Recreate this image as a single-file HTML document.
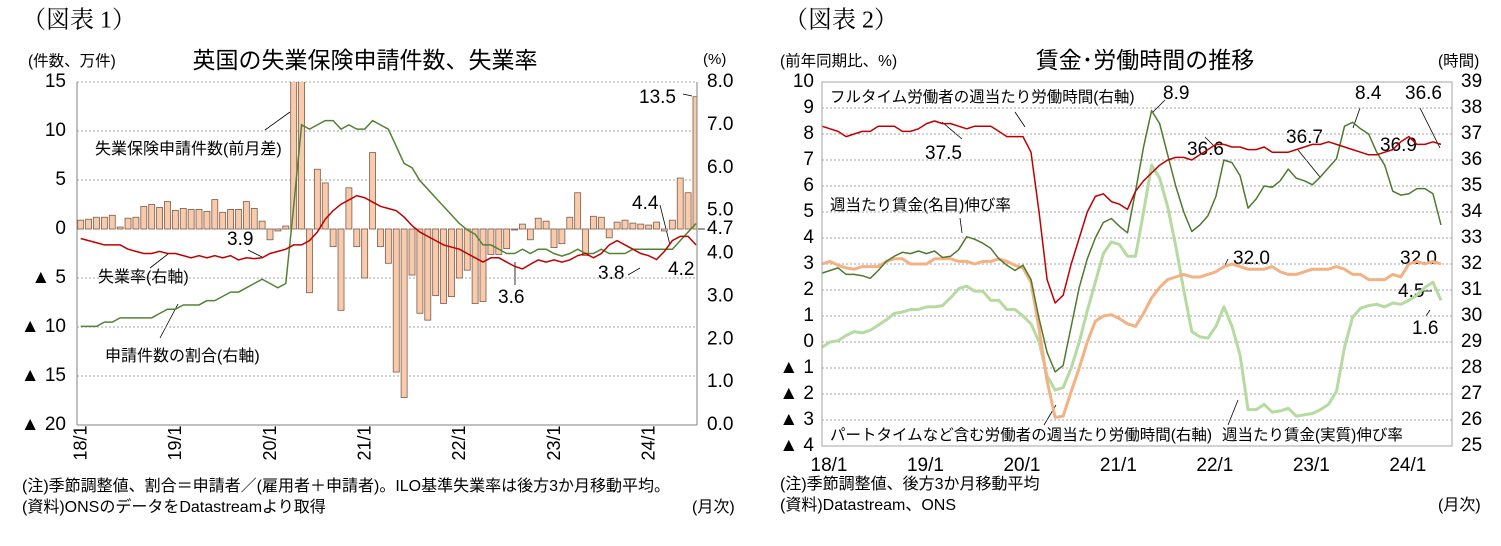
<!DOCTYPE html>
<html><head><meta charset="utf-8">
<style>
html,body{margin:0;padding:0;background:#fff;}
svg{display:block;font-family:"Liberation Sans","Noto Sans CJK JP",sans-serif;}
</style></head>
<body>
<svg id="s" width="1501" height="546" viewBox="0 0 1501 546" xmlns="http://www.w3.org/2000/svg">
<g id="static" font-size="16" fill="#000" dominant-baseline="middle">
  <text x="22" y="22" font-size="24" font-family="Liberation Serif,Noto Serif CJK SC,serif">（図表 1）</text>
  <text x="365" y="62" font-size="23" text-anchor="middle">英国の失業保険申請件数、失業率</text>
  <text x="28" y="62" font-size="15.5">(件数、万件)</text>
  <text x="703" y="60" font-size="15">(%)</text>
  <text x="95" y="150">失業保険申請件数(前月差)</text>
  <text x="98" y="278">失業率(右軸)</text>
  <text x="105" y="357">申請件数の割合(右軸)</text>
  <g font-size="19">
  <text x="227" y="240">3.9</text>
  <text x="498" y="298">3.6</text>
  <text x="639" y="98">13.5</text>
  <text x="632" y="204">4.4</text>
  <text x="598" y="274">3.8</text>
  <text x="668" y="270">4.2</text>
  </g>
  <g stroke="#000" stroke-width="0.8" fill="none">
    <line x1="265" y1="130" x2="290" y2="112"/><line x1="248" y1="250" x2="262" y2="257"/>
    <line x1="150" y1="268" x2="168" y2="254"/><line x1="160" y1="338" x2="178" y2="304"/>
    <line x1="515" y1="285" x2="515" y2="262"/><line x1="683" y1="94" x2="692" y2="96"/>
    <line x1="660" y1="205" x2="670" y2="245"/><line x1="628" y1="275" x2="640" y2="268"/>
    <line x1="698" y1="229" x2="705" y2="229"/>
  </g>
  <text x="22" y="487">(注)季節調整値、割合＝申請者／(雇用者＋申請者)。ILO基準失業率は後方3か月移動平均。</text>
  <text x="22" y="508">(資料)ONSのデータをDatastreamより取得</text>
  <text x="692" y="508">(月次)</text>

  <text x="784" y="22" font-size="24" font-family="Liberation Serif,Noto Serif CJK SC,serif">（図表 2）</text>
  <text x="1145" y="62" font-size="23" text-anchor="middle">賃金･労働時間の推移</text>
  <text x="780" y="62" font-size="15.5">(前年同期比、%)</text>
  <text x="1438" y="62" font-size="15.5">(時間)</text>
  <g font-size="15.5">
  <text x="830" y="98">フルタイム労働者の週当たり労働時間(右軸)</text>
  <text x="830" y="206">週当たり賃金(名目)伸び率</text>
  <text x="830" y="436">パートタイムなど含む労働者の週当たり労働時間(右軸)</text>
  <text x="1222" y="436">週当たり賃金(実質)伸び率</text>
  </g>
  <g font-size="19">
  <text x="925" y="154">37.5</text>
  <text x="1163" y="94">8.9</text>
  <text x="1187" y="150">36.6</text>
  <text x="1286" y="138">36.7</text>
  <text x="1355" y="94">8.4</text>
  <text x="1405" y="94">36.6</text>
  <text x="1380" y="146">36.9</text>
  <text x="1398" y="292">4.5</text>
  <text x="1233" y="259">32.0</text>
  <text x="1400" y="259">32.0</text>
  <text x="1412" y="329">1.6</text>
  </g>
  <g stroke="#000" stroke-width="0.8" fill="none">
    <line x1="1015" y1="112" x2="1025" y2="127"/><line x1="962" y1="139" x2="942" y2="122"/>
    <line x1="1165" y1="100" x2="1153" y2="112"/><line x1="1205" y1="137" x2="1217" y2="149"/>
    <line x1="1298" y1="150" x2="1320" y2="177"/><line x1="1360" y1="108" x2="1353" y2="128"/>
    <line x1="1420" y1="108" x2="1440" y2="148"/><line x1="960" y1="218" x2="962" y2="233"/>
    <line x1="1044" y1="425" x2="1056" y2="405"/><line x1="1228" y1="425" x2="1238" y2="400"/>
    <line x1="1426" y1="316" x2="1430" y2="310"/><line x1="1421" y1="291" x2="1432" y2="291"/>
    <line x1="1228" y1="259" x2="1225" y2="265"/>
  </g>
  <text x="780" y="485">(注)季節調整値、後方3か月移動平均</text>
  <text x="780" y="506">(資料)Datastream、ONS</text>
  <text x="1438" y="506">(月次)</text>
</g>
<g id="c1"></g>
<g id="c2"></g>
</svg>
<script>
// ---- Chart 1 data (2018/1 .. 2024/7) ----
const claimsChange = [0.9,1.0,1.2,1.2,1.4,0.2,1.1,1.2,2.3,2.5,2.2,2.8,1.9,2.1,2.0,2.0,1.8,3.0,1.7,2.0,2.0,2.8,2.1,0.8,-1.1,-0.2,0.3,85,30,-6.5,6.1,4.7,-1.8,-8.3,4.2,-1.8,-5.0,7.8,-1.8,-3.5,-14.6,-17.2,-4.7,-8.6,-9.3,-6.8,-7.6,-6.9,-5.0,-4.2,-7.6,-7.4,-2.6,-2.6,-2.0,-0.1,0.5,-1.1,1.1,0.8,-1.9,-1.5,1.2,3.7,-2.7,1.3,1.2,-0.9,0.7,0.9,0.6,0.5,0.4,0.7,-0.2,0.9,5.2,3.7,13.5];
const unempRate = [4.35,4.3,4.25,4.2,4.2,4.2,4.1,4.05,4.0,4.0,4.05,4.0,4.0,3.95,3.9,3.95,3.9,3.95,3.9,3.95,3.85,3.9,3.88,3.9,4.0,4.05,4.1,4.2,4.2,4.3,4.5,4.8,5.0,5.15,5.25,5.35,5.3,5.2,5.1,5.05,5.0,4.85,4.65,4.5,4.4,4.3,4.2,4.15,4.1,4.0,3.9,3.8,3.9,3.9,3.8,3.7,3.64,3.75,3.85,3.8,3.85,3.8,3.85,3.95,4.0,3.9,4.0,4.2,4.3,4.2,4.1,4.0,3.95,3.86,4.05,4.3,4.4,4.4,4.2];
const claimantShare = [2.3,2.3,2.3,2.4,2.4,2.5,2.5,2.5,2.5,2.5,2.6,2.7,2.7,2.8,2.8,2.8,2.9,2.9,3.0,3.1,3.1,3.2,3.3,3.4,3.3,3.2,3.3,5.1,7.0,6.9,7.0,7.1,7.1,6.9,7.0,6.9,6.9,7.1,7.0,6.9,6.5,6.1,6.0,5.7,5.5,5.3,5.1,4.9,4.7,4.55,4.45,4.2,4.2,4.1,4.0,4.0,4.1,4.0,4.1,4.1,4.0,3.94,4.0,4.1,4.0,4.0,4.1,4.0,4.0,4.0,4.1,4.1,4.1,4.1,4.1,4.1,4.3,4.5,4.7];
const c1LeftTicks = [15,10,5,0,-5,-10,-15,-20];
const c1RightTicks = [8,7,6,5,4,3,2,1,0];
const c1XLabels = ["18/1","19/1","20/1","21/1","22/1","23/1","24/1"];

// ---- Chart 2 data (2018/1 .. 2024/6) ----
const nominalWage = [2.65,2.75,2.85,2.6,2.6,2.55,2.45,2.75,3.1,3.3,3.45,3.4,3.5,3.4,3.5,3.25,3.3,3.55,4.05,3.95,3.8,3.6,3.2,2.95,2.75,2.95,2.4,0.9,-0.4,-1.15,-0.9,0.6,2.1,3.2,4.0,4.6,4.75,4.45,4.2,5.8,7.5,8.9,8.4,7.2,6.0,5.0,4.25,4.5,4.85,5.6,7.0,6.9,6.4,5.15,5.5,6.0,5.95,6.2,6.65,6.3,6.2,6.05,6.35,6.7,7.05,8.3,8.45,8.2,8.0,7.3,6.8,5.8,5.65,5.7,5.9,5.9,5.7,4.5];
const realWage = [-0.2,0.0,0.05,0.25,0.4,0.35,0.45,0.65,0.85,1.1,1.15,1.25,1.25,1.35,1.35,1.4,1.7,2.05,2.15,1.95,1.95,1.6,1.6,1.25,1.25,1.0,0.7,0.0,-1.3,-1.85,-1.75,-1.0,0.0,1.2,2.3,3.4,3.85,3.75,3.3,3.3,5.0,6.8,6.3,5.2,3.7,2.0,0.4,0.2,0.15,0.6,1.35,0.6,-0.5,-2.6,-2.6,-2.4,-2.7,-2.65,-2.55,-2.85,-2.8,-2.75,-2.6,-2.4,-1.9,-0.2,0.95,1.3,1.4,1.45,1.35,1.5,1.45,1.6,1.8,2.1,2.3,1.6];
const fullTimeHours = [37.3,37.2,37.1,36.9,37.0,37.1,37.1,37.3,37.3,37.3,37.1,37.1,37.2,37.4,37.5,37.4,37.4,37.3,37.2,37.3,37.3,37.3,37.1,36.9,36.9,36.9,36.3,34.0,31.4,30.5,30.8,32.0,33.0,34.0,34.6,34.7,34.4,34.3,34.1,34.8,35.2,35.5,35.8,36.0,36.1,36.1,36.0,36.2,36.4,36.6,36.6,36.5,36.5,36.4,36.4,36.5,36.3,36.3,36.3,36.4,36.5,36.6,36.6,36.7,36.6,36.5,36.4,36.3,36.2,36.2,36.3,36.4,36.7,36.9,36.6,36.6,36.7,36.6];
const allHours = [32.0,32.1,31.95,31.85,31.8,31.9,31.9,31.9,32.1,32.2,32.2,32.0,32.0,32.0,32.2,32.2,32.2,32.1,32.1,32.0,32.1,32.1,32.2,32.1,31.95,31.85,31.3,29.5,27.5,26.1,26.15,27.1,28.0,29.0,29.8,30.0,30.05,29.9,29.7,29.6,30.1,30.7,31.1,31.4,31.5,31.6,31.5,31.5,31.6,31.7,31.9,32.0,31.9,31.8,31.8,31.8,31.9,31.7,31.6,31.6,31.7,31.8,31.8,31.8,31.9,31.8,31.6,31.6,31.4,31.4,31.4,31.6,31.5,32.0,32.1,32.0,32.1,32.0];
const c2LeftTicks = [10,9,8,7,6,5,4,3,2,1,0,-1,-2,-3,-4];
const c2RightTicks = [39,38,37,36,35,34,33,32,31,30,29,28,27,26,25];
const c2XLabels = ["18/1","19/1","20/1","21/1","22/1","23/1","24/1"];

const NS = "http://www.w3.org/2000/svg";
function mk(tag, attrs, parent){const e=document.createElementNS(NS,tag);for(const k in attrs)e.setAttribute(k,attrs[k]);parent.appendChild(e);return e;}
function lin(d0,d1,r0,r1){return v=>r0+(v-d0)*(r1-r0)/(d1-d0);}
function tickText(v){return v<0?"▲ "+Math.abs(v):String(v);}

// ===== Chart 1 =====
(function(){
  const g=document.getElementById('c1');
  const L=77,R=697,T=82,B=425;
  const yL=lin(15,-20,T,B), yR=lin(8,0,T,B);
  const x=lin(0,claimsChange.length-1,80.7,696);
  c1LeftTicks.forEach(v=>{
    const gl=mk('line',{x1:L,x2:R,y1:yL(v),y2:yL(v),stroke:'#a6a6a6','stroke-dasharray':'2,2','stroke-width':1},g);
    
    
    const t=mk('text',{x:66,y:yL(v),'text-anchor':'end','dominant-baseline':'middle','font-size':19},g);
    t.textContent=tickText(v);
    
    
  });
  c1RightTicks.forEach(v=>{
    const t=mk('text',{x:707,y:yR(v),'dominant-baseline':'middle','font-size':19},g);
    t.textContent=v.toFixed(1);
    
    
  });
  const t47=mk('text',{x:707,y:229,'dominant-baseline':'middle','font-size':19},g);
  t47.textContent="4.7";
  
  
  const cp=mk('clipPath',{id:'clip1'},g);mk('rect',{x:L,y:T,width:R-L,height:B-T},cp);
  const bars=mk('g',{'clip-path':'url(#clip1)'},g);
  claimsChange.forEach((v,i)=>{
    const y0=yL(0),y1=yL(v);
    const r=mk('rect',{x:x(i)-3,y:Math.min(y0,y1),width:6,height:Math.abs(y1-y0),fill:'#f8cbad',stroke:'#7f5a48','stroke-width':0.8},bars);
    
    
  });
  const lines=mk('g',{'clip-path':'url(#clip1)'},g);
  const p1=mk('polyline',{points:claimantShare.map((v,i)=>x(i)+','+yR(v)).join(' '),fill:'none',stroke:'#548235','stroke-width':1.5},lines);
  
  
  const p2=mk('polyline',{points:unempRate.map((v,i)=>x(i)+','+yR(v)).join(' '),fill:'none',stroke:'#c00000','stroke-width':1.5},lines);
  
  
  mk('line',{x1:L,x2:L,y1:T,y2:B,stroke:'#808080'},g);
  mk('line',{x1:R,x2:R,y1:T,y2:B,stroke:'#808080'},g);
  mk('line',{x1:L,x2:R,y1:B,y2:B,stroke:'#808080'},g);
  c1XLabels.forEach((s,k)=>{
    const xx=x(k*12)+1;
    const t=mk('text',{x:0,y:0,'font-size':18,'text-anchor':'middle','dominant-baseline':'middle',transform:'translate('+xx+',443) rotate(-90)'},g);
    t.textContent=s;
    
    
  });
})();

// ===== Chart 2 =====
(function(){
  const g=document.getElementById('c2');
  const L=822,R=1452,T=82,B=446;
  const yL=lin(10,-4,T,B), yR=lin(39,25,T,B);
  const x=lin(0,nominalWage.length-1,822,1441);
  c2LeftTicks.forEach(v=>{
    const gl=mk('line',{x1:L,x2:R,y1:yL(v),y2:yL(v),stroke:'#a6a6a6','stroke-dasharray':'2,2','stroke-width':1},g);
    
    
    const t=mk('text',{x:814,y:yL(v),'text-anchor':'end','dominant-baseline':'middle','font-size':19},g);
    t.textContent=v<0?"▲ "+Math.abs(v):String(v);
    
    
  });
  c2RightTicks.forEach(v=>{
    const t=mk('text',{x:1461,y:yR(v),'dominant-baseline':'middle','font-size':19},g);
    t.textContent=String(v);
    
    
  });
  function line(data,sc,col,w,name){
    const p=mk('polyline',{points:data.map((v,i)=>x(i)+','+sc(v)).join(' '),fill:'none',stroke:col,'stroke-width':w,'stroke-linejoin':'round'},g);
    
    
  }
  line(realWage,yL,'#b5dba0',3,'real-wage-line');
  line(allHours,yR,'#f4b183',3,'all-workers-hours-line');
  line(nominalWage,yL,'#4e7a2e',1.5,'nominal-wage-line');
  line(fullTimeHours,yR,'#c00000',1.5,'fulltime-hours-line');
  mk('rect',{x:L,y:T,width:R-L,height:B-T,fill:'none',stroke:'#a6a6a6'},g);
  c2XLabels.forEach((s,k)=>{
    const t=mk('text',{x:x(k*12)+7,y:466,'font-size':19,'text-anchor':'middle','dominant-baseline':'middle'},g);
    t.textContent=s;
    
    
  });
})();
</script>
</body></html>
